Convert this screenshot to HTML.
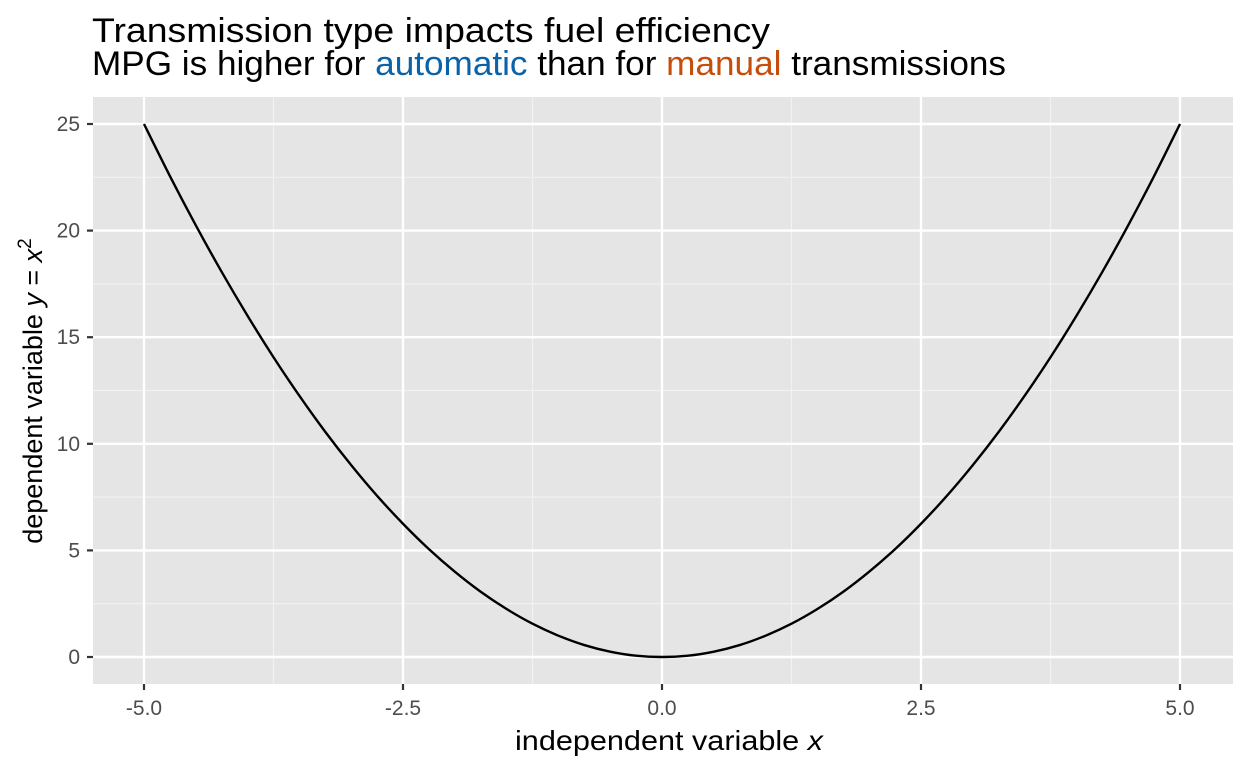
<!DOCTYPE html>
<html><head><meta charset="utf-8"><style>
body{margin:0;background:#fff;font-family:"Liberation Sans",Arial,sans-serif}
svg text{font-family:"Liberation Sans",Arial,sans-serif}
</style></head><body>
<svg id="chart" width="1248" height="768" xmlns="http://www.w3.org/2000/svg">
<text x="92" y="42" font-size="34" fill="#000" textLength="678" lengthAdjust="spacingAndGlyphs">Transmission type impacts fuel efficiency</text>
<text x="92" y="75" font-size="34" fill="#000" textLength="914" lengthAdjust="spacingAndGlyphs">MPG is higher for <tspan fill="#0a62a8">automatic</tspan> than for <tspan fill="#c64e0d">manual</tspan> transmissions</text>
<rect x="93" y="97" width="1140" height="587" fill="#e5e5e5"/>
<g id="grid"></g>
<path id="curve" fill="none" stroke="#000" stroke-width="2.4"/>
<g id="axes"></g>
<text x="515" y="750" font-size="28" fill="#000" textLength="308" lengthAdjust="spacingAndGlyphs">independent variable <tspan font-style="italic">x</tspan></text>
<text transform="translate(42,391) rotate(-90)" font-size="27" text-anchor="middle" fill="#000">dependent variable <tspan font-style="italic">y</tspan> = <tspan font-style="italic">x</tspan><tspan dy="-11" font-size="19">2</tspan></text>
</svg>
<script>
const xTicks=[-5,-2.5,0,2.5,5];
const xTickLabels=["-5.0","-2.5","0.0","2.5","5.0"];
const yTicks=[0,5,10,15,20,25];
const yTickLabels=["0","5","10","15","20","25"];
const xMinor=[-3.75,-1.25,1.25,3.75];
const yMinor=[2.5,7.5,12.5,17.5,22.5];
const xValues=[-5,-4.75,-4.5,-4.25,-4,-3.75,-3.5,-3.25,-3,-2.75,-2.5,-2.25,-2,-1.75,-1.5,-1.25,-1,-0.75,-0.5,-0.25,0,0.25,0.5,0.75,1,1.25,1.5,1.75,2,2.25,2.5,2.75,3,3.25,3.5,3.75,4,4.25,4.5,4.75,5];
const yValues=[25,22.56,20.25,18.06,16,14.06,12.25,10.56,9,7.56,6.25,5.06,4,3.06,2.25,1.56,1,0.56,0.25,0.06,0,0.06,0.25,0.56,1,1.56,2.25,3.06,4,5.06,6.25,7.56,9,10.56,12.25,14.06,16,18.06,20.25,22.56,25];
const X=v=>662+v*103.6, Y=v=>657-v*21.32;
const NS="http://www.w3.org/2000/svg";
const grid=document.getElementById('grid'), axes=document.getElementById('axes');
function line(p,x1,y1,x2,y2,s,w){const l=document.createElementNS(NS,'line');l.setAttribute('x1',x1);l.setAttribute('y1',y1);l.setAttribute('x2',x2);l.setAttribute('y2',y2);l.setAttribute('stroke',s);l.setAttribute('stroke-width',w);p.appendChild(l);return l;}
xMinor.forEach(v=>{const l=line(grid,X(v),97,X(v),684,'#f2f2f2',1.2);

});
yMinor.forEach(v=>{const l=line(grid,93,Y(v),1233,Y(v),'#f2f2f2',1.2);

});
xTicks.forEach((v,i)=>{const l=line(grid,X(v),97,X(v),684,'#fff',2.4);


const t=line(axes,X(v),684,X(v),690,'#333',2.2);


const tx=document.createElementNS(NS,'text');tx.setAttribute('x',X(v));tx.setAttribute('y',715);tx.setAttribute('font-size','21');tx.setAttribute('fill','#4d4d4d');tx.setAttribute('text-anchor','middle');tx.textContent=xTickLabels[i];


axes.appendChild(tx);});
yTicks.forEach((v,i)=>{const l=line(grid,93,Y(v),1233,Y(v),'#fff',2.4);


const t=line(axes,87,Y(v),93,Y(v),'#333',2.2);


const tx=document.createElementNS(NS,'text');tx.setAttribute('x',80);tx.setAttribute('y',Y(v)+7);tx.setAttribute('font-size','21');tx.setAttribute('fill','#4d4d4d');tx.setAttribute('text-anchor','end');tx.textContent=yTickLabels[i];


axes.appendChild(tx);});
let d='M'+X(xValues[0])+','+Y(yValues[0]);
for(let i=0;i<xValues.length-1;i++){
 const p0=[X(xValues[Math.max(0,i-1)]),Y(yValues[Math.max(0,i-1)])],p1=[X(xValues[i]),Y(yValues[i])],p2=[X(xValues[i+1]),Y(yValues[i+1])],p3=[X(xValues[Math.min(xValues.length-1,i+2)]),Y(yValues[Math.min(xValues.length-1,i+2)])];
 d+=' C'+(p1[0]+(p2[0]-p0[0])/6)+','+(p1[1]+(p2[1]-p0[1])/6)+' '+(p2[0]-(p3[0]-p1[0])/6)+','+(p2[1]-(p3[1]-p1[1])/6)+' '+p2[0]+','+p2[1];
}
document.getElementById('curve').setAttribute('d',d);
</script>
</body></html>
